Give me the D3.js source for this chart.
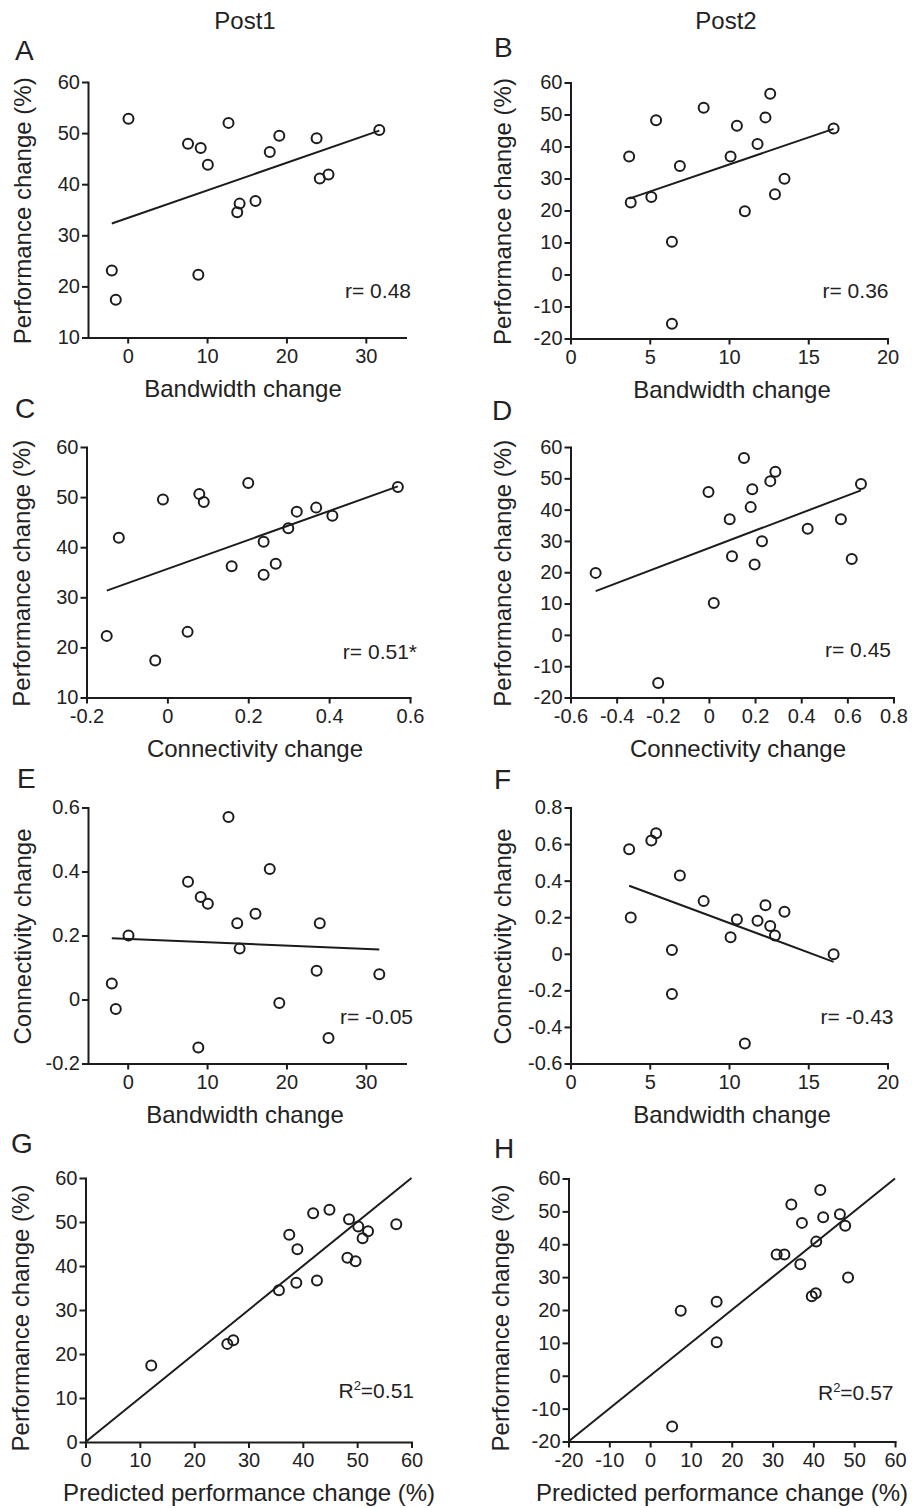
<!DOCTYPE html>
<html>
<head>
<meta charset="utf-8">
<script src="https://cdn.jsdelivr.net/npm/d3@7"></script>
<style>
  body { margin: 0; background: #fff; }
  svg { display: block; font-family: "Liberation Sans", Arial, Helvetica, sans-serif; }
  text { fill: #222; }
</style>
</head>
<body>
<div id="chart"></div>
<script>
// Post1 subjects, same order in every array
const bandwidth1 = [-2.0, -1.5, 0.1, 7.6, 9.2, 10.1, 8.9, 12.7, 13.8, 14.1, 16.1, 17.9, 19.1, 23.8, 24.2, 25.3, 31.7];
const connectivity1 = [0.050, -0.030, 0.200, 0.368, 0.320, 0.299, -0.150, 0.570, 0.238, 0.159, 0.268, 0.408, -0.011, 0.090, 0.238, -0.120, 0.079];
const performance1 = [23.1, 17.4, 52.8, 47.9, 47.1, 43.8, 22.3, 52.0, 34.5, 36.2, 36.7, 46.3, 49.5, 49.0, 41.1, 41.9, 50.6];
const predicted1 = [27.2, 12.1, 44.9, 52.0, 37.5, 39.0, 26.1, 41.9, 35.6, 38.8, 42.6, 51.0, 57.2, 50.2, 49.7, 48.2, 48.5];

// Post2 subjects
const bandwidth2 = [3.7, 3.8, 5.1, 5.4, 6.4, 6.4, 6.9, 8.4, 10.1, 10.5, 11.0, 11.8, 12.3, 12.6, 12.9, 13.5, 16.6];
const connectivity2 = [0.572, 0.198, 0.619, 0.659, 0.021, -0.220, 0.428, 0.288, 0.090, 0.188, -0.491, 0.181, 0.266, 0.152, 0.100, 0.230, -0.002];
const performance2 = [36.9, 22.5, 24.2, 48.2, 10.2, -15.4, 33.9, 52.1, 36.9, 46.5, 19.8, 40.8, 49.1, 56.5, 25.1, 29.9, 45.6];
const predicted2 = [31.0, 16.3, 39.6, 42.4, 16.3, 5.4, 36.8, 34.6, 32.9, 37.2, 7.5, 40.7, 46.5, 41.7, 40.6, 48.5, 47.8];

// tick labels
const bwTicks1 = [0, 10, 20, 30];
const bwTicks2 = [0, 5, 10, 15, 20];
const perfTicks1 = [10, 20, 30, 40, 50, 60];
const perfTicks2 = [-20, -10, 0, 10, 20, 30, 40, 50, 60];
const connTicksC = [-0.2, 0, 0.2, 0.4, 0.6];
const connTicksD = [-0.6, -0.4, -0.2, 0, 0.2, 0.4, 0.6, 0.8];
const connTicksE = [-0.2, 0, 0.2, 0.4, 0.6];
const connTicksF = [-0.6, -0.4, -0.2, 0, 0.2, 0.4, 0.6, 0.8];
const predTicksG = [0, 10, 20, 30, 40, 50, 60];
const predTicksH = [-20, -10, 0, 10, 20, 30, 40, 50, 60];

const notes = ["r= 0.48", "r= 0.36", "r= 0.51*", "r= 0.45", "r= -0.05", "r= -0.43", "0.51", "0.57"];

const svg = d3
  .select("#chart")
  .append("svg")
  .attr("width", 912)
  .attr("height", 1508);

const ink = "#1c1c1c";

// column titles
svg.append("text").attr("x", 245).attr("y", 29).attr("text-anchor", "middle")
  .style("font-size", "24px").text("Post1");
svg.append("text").attr("x", 726).attr("y", 29).attr("text-anchor", "middle")
  .style("font-size", "24px").text("Post2");

// box = [left, top, right, bottom]; xc = centre of the x title
const panels = [
  { letter: "A", lp: [15, 60], box: [88, 82, 405.5, 337.5], xs: bandwidth1, ys: performance1,
    xd: [-5, 35], yd: [10, 60], xt: bwTicks1, yt: perfTicks1, xc: 243,
    xl: "Bandwidth change", yl: "Performance change (%)", note: notes[0], np: [411, 297.5] },
  { letter: "B", lp: [494, 57], box: [570.5, 82.5, 887.5, 338.5], xs: bandwidth2, ys: performance2,
    xd: [0, 20], yd: [-20, 60], xt: bwTicks2, yt: perfTicks2, xc: 732,
    xl: "Bandwidth change", yl: "Performance change (%)", note: notes[1], np: [888.5, 297.5] },
  { letter: "C", lp: [15, 418], box: [86.5, 447, 410, 697.5], xs: connectivity1, ys: performance1,
    xd: [-0.2, 0.6], yd: [10, 60], xt: connTicksC, yt: perfTicks1, xc: 255,
    xl: "Connectivity change", yl: "Performance change (%)", note: notes[2], np: [417, 658.5] },
  { letter: "D", lp: [492, 420], box: [570.5, 447, 893.5, 697.5], xs: connectivity2, ys: performance2,
    xd: [-0.6, 0.8], yd: [-20, 60], xt: connTicksD, yt: perfTicks2, xc: 738,
    xl: "Connectivity change", yl: "Performance change (%)", note: notes[3], np: [891, 657] },
  { letter: "E", lp: [17, 788], box: [88, 807.5, 405.5, 1063.5], xs: bandwidth1, ys: connectivity1,
    xd: [-5, 35], yd: [-0.2, 0.6], xt: bwTicks1, yt: connTicksE, xc: 245,
    xl: "Bandwidth change", yl: "Connectivity change", note: notes[4], np: [413, 1023.5] },
  { letter: "F", lp: [494, 789], box: [570.5, 807.5, 887.5, 1063.5], xs: bandwidth2, ys: connectivity2,
    xd: [0, 20], yd: [-0.6, 0.8], xt: bwTicks2, yt: connTicksF, xc: 732,
    xl: "Bandwidth change", yl: "Connectivity change", note: notes[5], np: [893.5, 1023.5] },
  { letter: "G", lp: [11, 1153], box: [85.5, 1178, 411.5, 1442], xs: predicted1, ys: performance1,
    xd: [0, 60], yd: [0, 60], xt: predTicksG, yt: predTicksG, identity: true, xc: 249,
    xl: "Predicted performance change (%)", yl: "Performance change (%)", note: notes[6], np: [414, 1398], r2: true },
  { letter: "H", lp: [494, 1158], box: [568.5, 1178.5, 895, 1441.5], xs: predicted2, ys: performance2,
    xd: [-20, 60], yd: [-20, 60], xt: predTicksH, yt: predTicksH, identity: true, xc: 722,
    xl: "Predicted performance change (%)", yl: "Performance change (%)", note: notes[7], np: [893.5, 1400], r2: true },
];

// least-squares line over the range of x
function fitLine(xs, ys) {
  const mx = d3.mean(xs), my = d3.mean(ys);
  const b = d3.sum(xs, (v, i) => (v - mx) * (ys[i] - my)) / d3.sum(xs, (v) => (v - mx) ** 2);
  const a = my - b * mx;
  const [x0, x1] = d3.extent(xs);
  return [[x0, a + b * x0], [x1, a + b * x1]];
}

panels.forEach((p) => {
  const [left, top, right, bottom] = p.box;
  const x = d3.scaleLinear().domain(p.xd).range([left, right]);
  const y = d3.scaleLinear().domain(p.yd).range([bottom, top]);
  const g = svg.append("g");

  const xAxis = g.append("g")
    .attr("transform", `translate(0,${bottom})`)
    .call(d3.axisBottom(x).tickValues(p.xt).tickFormat((d) => String(d))
      .tickSize(6).tickSizeOuter(0).tickPadding(5));
  const yAxis = g.append("g")
    .attr("transform", `translate(${left},0)`)
    .call(d3.axisLeft(y).tickValues(p.yt).tickFormat((d) => String(d))
      .tickSize(6).tickSizeOuter(0).tickPadding(2));

  [xAxis, yAxis].forEach((ax) => {
    ax.attr("font-family", null).attr("font-size", null);
    ax.select(".domain").attr("stroke", ink).attr("stroke-width", 2).attr("stroke-linecap", "square");
    ax.selectAll(".tick line").attr("stroke", ink).attr("stroke-width", 2);
    ax.selectAll(".tick text").style("font-size", "20px").attr("fill", "#222");
  });

  // fit line
  const pts = p.identity ? [[p.xd[0], p.xd[0]], [p.xd[1], p.xd[1]]] : fitLine(p.xs, p.ys);
  g.append("path")
    .attr("d", d3.line().x((d) => x(d[0])).y((d) => y(d[1]))(pts))
    .attr("fill", "none")
    .attr("stroke", ink)
    .attr("stroke-width", 2);

  // points
  g.selectAll("circle")
    .data(p.xs.map((v, i) => [v, p.ys[i]]))
    .enter()
    .append("circle")
    .attr("cx", (d) => x(d[0]))
    .attr("cy", (d) => y(d[1]))
    .attr("r", 5)
    .attr("fill", "none")
    .attr("stroke", ink)
    .attr("stroke-width", 2);

  // labels
  g.append("text").attr("x", p.lp[0]).attr("y", p.lp[1])
    .style("font-size", "28px").text(p.letter);

  g.append("text")
    .attr("x", p.xc)
    .attr("y", bottom + 59)
    .attr("text-anchor", "middle")
    .style("font-size", "24px")
    .text(p.xl);

  const ymid = (top + bottom) / 2 + (p.r2 ? 8 : 1);
  g.append("text")
    .attr("transform", `translate(${left - (left > 400 ? 60 : 57)},${ymid}) rotate(-90)`)
    .attr("text-anchor", "middle")
    .style("font-size", "24px")
    .text(p.yl);

  const note = g.append("text")
    .attr("x", p.np[0]).attr("y", p.np[1])
    .attr("text-anchor", "end")
    .style("font-size", "21px");
  if (p.r2) {
    note.append("tspan").text("R");
    note.append("tspan").attr("dy", -8).style("font-size", "13px").text("2");
    note.append("tspan").attr("dy", 8).text("=" + p.note);
  } else {
    note.text(p.note);
  }
});
</script>
</body>
</html>
